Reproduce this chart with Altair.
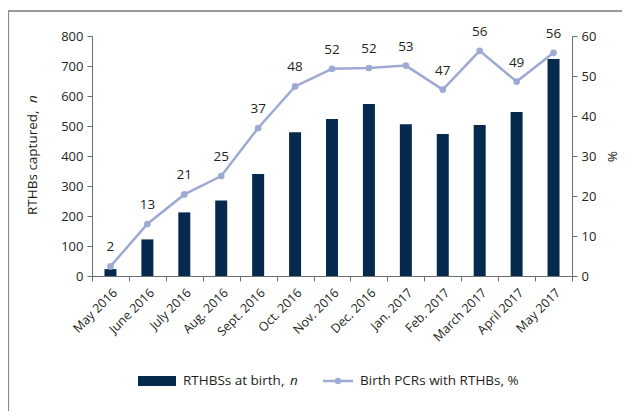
import altair as alt
import pandas as pd

months = ["May 2016", "June 2016", "July 2016", "Aug. 2016", "Sept. 2016", "Oct. 2016",
          "Nov. 2016", "Dec. 2016", "Jan. 2017", "Feb. 2017", "March 2017", "April 2017", "May 2017"]
rthbs = [23, 122, 212, 252, 340, 479, 523, 573, 506, 473, 503, 547, 723]
pct = [2.4, 13.0, 20.4, 25.0, 37.0, 47.4, 51.8, 52.0, 52.6, 46.6, 56.3, 48.6, 55.8]
pct_labels = ["2", "13", "21", "25", "37", "48", "52", "52", "53", "47", "56", "49", "56"]

left_ticks = [0, 100, 200, 300, 400, 500, 600, 700, 800]
right_ticks = [0, 10, 20, 30, 40, 50, 60]

NAVY = "#06294e"
LAV = "#9ea9d4"
TXT = "#231f20"
AX = "#6d6e71"
FONT = "Open Sans"

df = pd.DataFrame({"month": months, "rthbs": rthbs, "pct": pct, "label": pct_labels})
one = pd.DataFrame({"a": [0]})

x_enc = alt.X("month:N", sort=months,
              scale=alt.Scale(paddingInner=0, paddingOuter=0),
              axis=alt.Axis(title=None, labelAngle=-45, tickBand="extent", tickSize=5,
                            labelPadding=5, domainColor=AX, tickColor=AX, labelColor=TXT,
                            labelFontSize=12.5, labelFont=FONT))

bars = alt.Chart(df).mark_bar(size=12, color=NAVY).encode(
    x=x_enc,
    y=alt.Y("rthbs:Q", scale=alt.Scale(domain=[0, 800], nice=False),
            axis=alt.Axis(orient="left", values=left_ticks, title=None, grid=False, tickSize=5,
                          domainColor=AX, tickColor=AX, labelColor=TXT, labelFontSize=13,
                          labelFont=FONT, labelPadding=4))
)

y_right = alt.Y("pct:Q", scale=alt.Scale(domain=[0, 60], nice=False),
                axis=alt.Axis(orient="right", values=right_ticks, title="%", titleAngle=90,
                              titleFontWeight="normal", titleFontSize=13.5, titleFont=FONT,
                              titleColor=TXT, titlePadding=9, grid=False, tickSize=5,
                              domainColor=AX, tickColor=AX, labelColor=TXT, labelFontSize=13,
                              labelFont=FONT, labelPadding=4))

line = alt.Chart(df).mark_line(color=LAV, strokeWidth=2.5).encode(x=x_enc, y=y_right)
pts = alt.Chart(df).mark_point(color=LAV, filled=True, size=45, opacity=1).encode(x=x_enc, y=y_right)
lbls = alt.Chart(df).mark_text(dy=-12, baseline="bottom", fontSize=13.5, font=FONT, color=TXT).encode(
    x=x_enc, y=y_right, text="label:N")
right = alt.layer(line, pts, lbls)

# left axis title (with italic n)
yt1 = alt.Chart(one).mark_text(angle=270, align="left", baseline="middle", fontSize=13.5,
                               font=FONT, color=TXT).encode(
    x=alt.value(-59), y=alt.value(179), text=alt.value("RTHBs  captured,"))
yt2 = alt.Chart(one).mark_text(angle=270, align="left", baseline="middle", fontSize=13.5,
                               font=FONT, fontStyle="italic", color=TXT).encode(
    x=alt.value(-59), y=alt.value(67), text=alt.value("n"))

# legend
leg_rect = alt.Chart(one).mark_rect(color=NAVY).encode(
    x=alt.value(46), x2=alt.value(84), y=alt.value(340), y2=alt.value(350))
leg_t1 = alt.Chart(one).mark_text(align="left", baseline="middle", fontSize=13.5, font=FONT,
                                  color=TXT).encode(
    x=alt.value(91), y=alt.value(345), text=alt.value("RTHBSs at birth,"))
leg_t1n = alt.Chart(one).mark_text(align="left", baseline="middle", fontSize=13.5, font=FONT,
                                   fontStyle="italic", color=TXT).encode(
    x=alt.value(198), y=alt.value(345), text=alt.value("n"))
leg_line = alt.Chart(one).mark_rule(color=LAV, strokeWidth=2.5).encode(
    x=alt.value(231), x2=alt.value(261), y=alt.value(345))
leg_pt = alt.Chart(one).mark_point(color=LAV, filled=True, size=40, opacity=1).encode(
    x=alt.value(246), y=alt.value(345))
leg_t2 = alt.Chart(one).mark_text(align="left", baseline="middle", fontSize=13.5, font=FONT,
                                  color=TXT).encode(
    x=alt.value(268), y=alt.value(345), text=alt.value("Birth PCRs with RTHBs, %"))

# frame
frame_top = alt.Chart(one).mark_rule(color="#333333", strokeWidth=1).encode(
    x=alt.value(-84), x2=alt.value(560), y=alt.value(-25))
frame_left = alt.Chart(one).mark_rule(color="#8a8a8a", strokeWidth=1.2).encode(
    x=alt.value(-83.5), y=alt.value(-25), y2=alt.value(400))

chart = alt.layer(
    bars, right, yt1, yt2, leg_rect, leg_t1, leg_t1n, leg_line, leg_pt, leg_t2,
    frame_top, frame_left
).resolve_scale(y="independent").properties(
    width=480, height=240,
    autosize=alt.AutoSizeParams(type="none"),
    padding={"left": 84, "top": 28, "right": 50, "bottom": 135},
    background="white"
).configure_view(stroke=None)

chart.save("out.html", embed_options={"renderer": "svg", "actions": False})
